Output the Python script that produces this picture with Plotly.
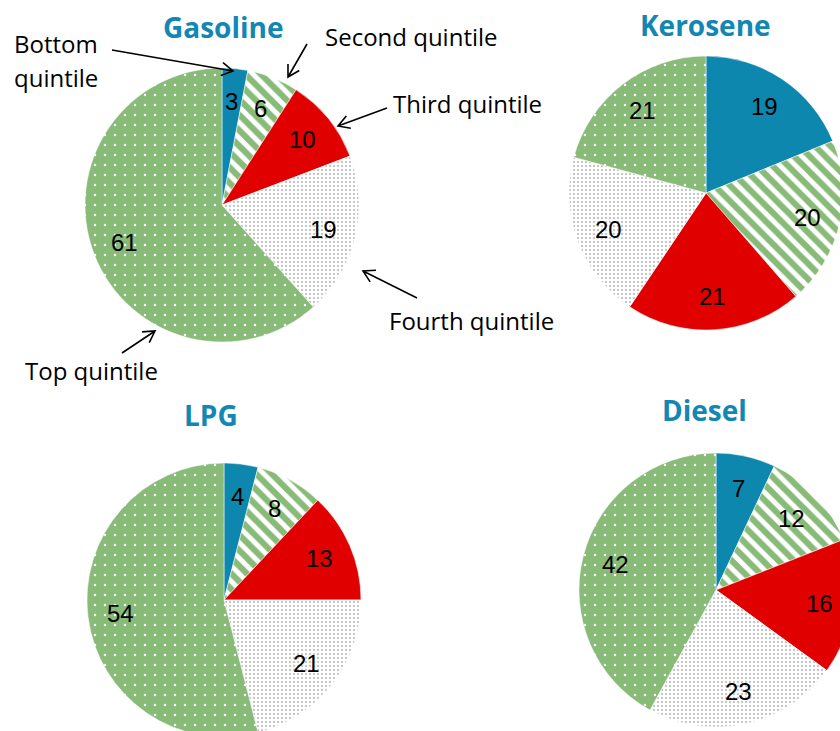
import math
import plotly.graph_objects as go

# ---- data: share of fuel subsidy benefits by income quintile (%) ----
quintiles = ["Bottom quintile", "Second quintile", "Third quintile",
             "Fourth quintile", "Top quintile"]
fuels = ["Gasoline", "Kerosene", "LPG", "Diesel"]
gasoline_share = [3, 6, 10, 19, 61]
kerosene_share = [19, 20, 21, 20, 21]
lpg_share = [4, 8, 13, 21, 54]
diesel_share = [7, 12, 16, 23, 42]
shares = {"Gasoline": gasoline_share, "Kerosene": kerosene_share,
          "LPG": lpg_share, "Diesel": diesel_share}

# ---- layout (pixels) ----
W, H = 880, 760          # canvas a little larger than the view; pies bleed off the edges
R = 137                  # pie radius
LABEL_R = 0.76 * R       # radius at which value labels sit
pie_centers = {"Gasoline": (222, 205), "Kerosene": (706, 193),
               "LPG": (224, 600), "Diesel": (716, 590)}
title_pos = {"Gasoline": (223, 27), "Kerosene": (705, 25),
             "LPG": (211, 415), "Diesel": (704, 410)}

TEAL = "#0D87AD"
RED = "#E00000"
GREEN = "#88BA78"
GREY_DOT = "#B4B4B4"
TITLE_COLOR = "#1387B3"

slice_colors = [TEAL, "white", RED, "white", GREEN]
slice_pattern = dict(
    shape=["", "\\", "", ".", "."],
    fgcolor=[TEAL, GREEN, RED, GREY_DOT, "white"],
    bgcolor=[TEAL, "white", RED, "white", GREEN],
    size=[8, 11, 8, 4, 10],
    solidity=[0.0, 0.55, 0.0, 0.2, 0.05],
    fillmode="replace",
)


def px(x):
    return x / W


def py(y):
    return 1 - y / H


fig = go.Figure()
annotations = []
shapes = []

for fuel in fuels:
    vals = shares[fuel]
    cx, cy = pie_centers[fuel]
    fig.add_trace(go.Pie(
        labels=quintiles,
        values=vals,
        name=fuel,
        sort=False,
        direction="clockwise",
        rotation=0,
        textinfo="none",
        hovertemplate="%{label}: %{value}<extra>" + fuel + "</extra>",
        showlegend=False,
        domain=dict(x=[px(cx - R), px(cx + R)], y=[py(cy + R), py(cy - R)]),
        marker=dict(colors=slice_colors,
                    line=dict(color="white", width=0.5),
                    pattern=slice_pattern),
    ))

    # value labels at each slice's mid-angle
    total = sum(vals)
    cum = 0
    for v in vals:
        mid = (cum + v / 2) / total * 2 * math.pi
        lx = cx + LABEL_R * math.sin(mid)
        ly = cy - LABEL_R * math.cos(mid)
        annotations.append(dict(
            x=px(lx), y=py(ly), xref="paper", yref="paper", text=str(v),
            showarrow=False, xanchor="center", yanchor="middle",
            font=dict(family="Liberation Sans, Arial", size=24, color="black"),
        ))
        cum += v

    tx, ty = title_pos[fuel]
    annotations.append(dict(
        x=px(tx), y=py(ty), xref="paper", yref="paper", text=fuel,
        showarrow=False, xanchor="center", yanchor="middle",
        font=dict(family="Open Sans", size=28, color=TITLE_COLOR, weight="bold"),
    ))

# ---- callouts naming the quintiles on the gasoline pie ----
callout_font = dict(family="Open Sans", size=24, color="black")
callouts = [
    ("Bottom", 12, 44),
    ("quintile", 12, 77),
    ("Second quintile", 323, 36),
    ("Third quintile", 391, 103),
    ("Fourth quintile", 387, 321),
    ("Top quintile", 23, 370),
]
for text, x, y in callouts:
    annotations.append(dict(
        x=px(x), y=py(y), xref="paper", yref="paper", text=text,
        showarrow=False, xanchor="left", yanchor="middle", font=callout_font,
    ))

# arrows: (tail, tip) in pixels, drawn with open "V" heads
arrows = [
    ((112, 50), (233, 71)),
    ((307, 44), (288, 77)),
    ((387, 108), (338, 126)),
    ((417, 298), (363, 271)),
    ((122, 353), (155, 331)),
]
HEAD_LEN = 13
HEAD_ANG = math.radians(30)
for (x0, y0), (x1, y1) in arrows:
    ang = math.atan2(y1 - y0, x1 - x0)
    a1 = (x1 - HEAD_LEN * math.cos(ang - HEAD_ANG), y1 - HEAD_LEN * math.sin(ang - HEAD_ANG))
    a2 = (x1 - HEAD_LEN * math.cos(ang + HEAD_ANG), y1 - HEAD_LEN * math.sin(ang + HEAD_ANG))
    path = (f"M{px(x0)},{py(y0)} L{px(x1)},{py(y1)} "
            f"M{px(a1[0])},{py(a1[1])} L{px(x1)},{py(y1)} L{px(a2[0])},{py(a2[1])}")
    shapes.append(dict(type="path", xref="paper", yref="paper", path=path,
                       line=dict(color="black", width=1.6)))

fig.update_layout(
    width=W, height=H,
    margin=dict(l=0, r=0, t=0, b=0),
    paper_bgcolor="white",
    plot_bgcolor="white",
    annotations=annotations,
    shapes=shapes,
    showlegend=False,
)

fig.write_html(
    "out.html",
    post_script=("document.documentElement.style.overflow='hidden';"
                 "document.body.style.overflow='hidden';"
                 "document.body.style.margin='0';"),
)
